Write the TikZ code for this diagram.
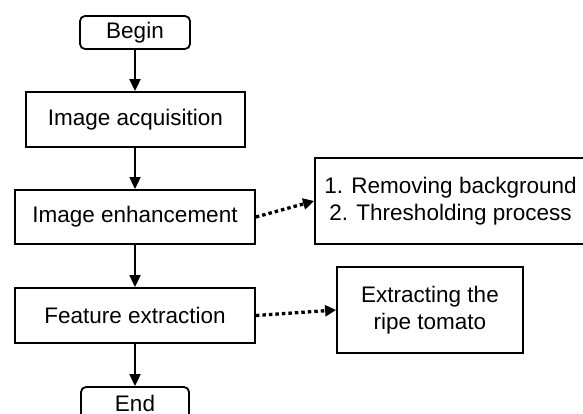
\documentclass[tikz,border=0pt]{standalone}
\usepackage{fontspec}
\setmainfont{Liberation Sans}
\usetikzlibrary{arrows.meta}
\begin{document}
\begin{tikzpicture}[x=1pt,y=-1pt,
  every node/.style={font=\fontsize{22.5}{26.7}\selectfont},
  procbox/.style={draw,line width=1.8pt,rectangle,inner sep=0pt,align=center},
  termbox/.style={procbox,rounded corners=5pt},
  flow/.style={line width=1.8pt,-{Triangle[length=12pt,width=11pt]}},
  dotflow/.style={line width=3.3pt,dash pattern=on 3.5pt off 3pt,-{Triangle[length=11pt,width=11pt]}}]
\useasboundingbox (0,0) rectangle (583,414);
\clip (0,0) rectangle (583,414);
\node[termbox,minimum width=110pt,minimum height=33pt] (begin) at (135,32.5) {Begin};
\node[procbox,minimum width=219pt,minimum height=55pt] (acq) at (135.5,119.5) {Image acquisition};
\node[procbox,minimum width=240pt,minimum height=54pt] (enh) at (135,217) {Image enhancement};
\node[procbox,minimum width=240pt,minimum height=55pt] (feat) at (135,315.5) {Feature extraction};
\node[termbox,minimum width=108pt,minimum height=33pt] (end) at (135,403.5) {End};
\node[procbox,minimum width=271pt,minimum height=86pt] (rem) at (450.5,201) {1. Removing background\\2. Thresholding process};
\node[procbox,minimum width=186pt,minimum height=86pt] (ext) at (430,310) {Extracting the\\ripe tomato};
\draw[flow] (begin.south) -- (begin.south |- acq.north);
\draw[flow] (acq.south -| begin.south) -- (begin.south |- enh.north);
\draw[flow] (enh.south) -- (feat.north);
\draw[flow] (feat.south) -- (end.north);
\draw[dotflow] (enh.east) -- (rem.west);
\draw[dotflow] (feat.east) -- (ext.west);
\end{tikzpicture}
\end{document}
